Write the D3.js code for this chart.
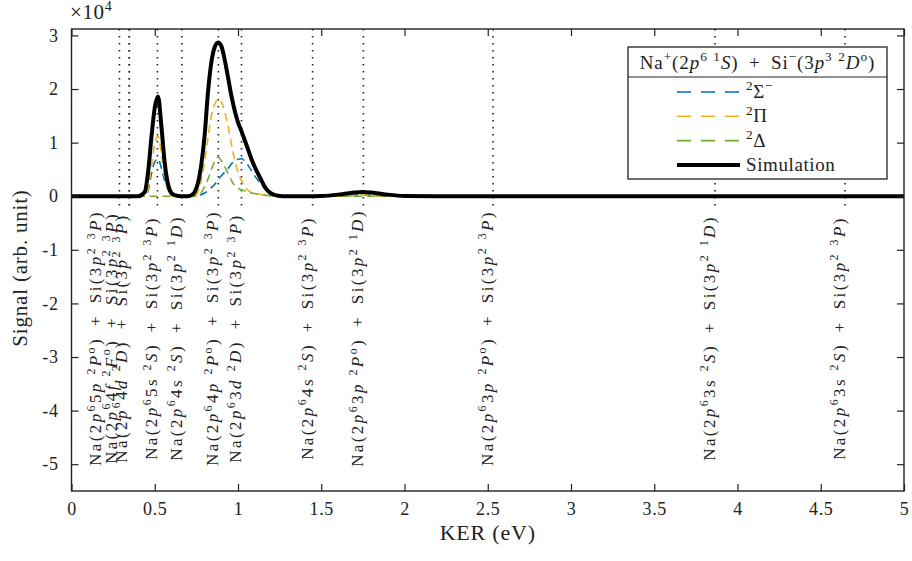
<!DOCTYPE html>
<html lang="en">
<head>
<meta charset="UTF-8">
<title>KER spectrum Na+ + Si-</title>
<style>
  body, html { margin: 0; padding: 0; background: #fff; overflow: hidden; }
  svg { display: block; font-family: "Liberation Serif", "DejaVu Serif", serif; }
  text { white-space: pre; }
</style>
</head>
<body>
<script src="https://d3js.org/d3.v7.min.js"></script>
<script>
// KER grid (eV); signals in units of 10^4
var ker = [0, 0.40, 0.44, 0.46, 0.48, 0.50, 0.52, 0.54, 0.56, 0.58, 0.60, 0.62,
           0.66, 0.70, 0.72, 0.74, 0.76, 0.78, 0.80, 0.82, 0.84, 0.86, 0.88, 0.90, 0.92, 0.94, 0.96, 0.98,
           1.00, 1.02, 1.04, 1.06, 1.08, 1.10, 1.12, 1.14, 1.16, 1.18, 1.20, 1.24,
           1.30, 1.40, 1.50, 1.60, 1.65, 1.70, 1.75, 1.80, 1.85, 1.90, 2.00, 2.20, 5.00];

var sigmaMinus = [0, 0, 0, 0.10, 0.42, 0.64, 0.70, 0.52, 0.28, 0.12, 0.03, 0,
                  0, 0, 0, 0, 0.01, 0.03, 0.06, 0.10, 0.16, 0.22, 0.30, 0.38, 0.45, 0.52, 0.60, 0.66,
                  0.69, 0.70, 0.66, 0.58, 0.48, 0.38, 0.30, 0.22, 0.15, 0.09, 0.05, 0.01,
                  0, 0, 0, 0, 0, 0.02, 0.03, 0.02, 0, 0, 0, 0, 0];

var piState = [0, 0, 0, 0.15, 0.55, 0.98, 1.12, 0.80, 0.35, 0.10, 0.02, 0,
               0, 0, 0, 0, 0.08, 0.30, 0.65, 1.10, 1.50, 1.72, 1.81, 1.76, 1.58, 1.31, 0.98, 0.68,
               0.45, 0.30, 0.18, 0.11, 0.07, 0.05, 0.04, 0.03, 0.02, 0.015, 0.01, 0,
               0, 0, 0, 0, 0, 0.02, 0.03, 0.02, 0, 0, 0, 0, 0];

var deltaState = [0, 0, 0, 0, 0, 0, 0, 0, 0, 0, 0, 0,
                  0, 0, 0, 0, 0.02, 0.07, 0.18, 0.32, 0.50, 0.65, 0.73, 0.66, 0.55, 0.42, 0.30, 0.20,
                  0.15, 0.12, 0.10, 0.08, 0.06, 0.05, 0.04, 0.03, 0.02, 0.015, 0.01, 0,
                  0, 0, 0, 0, 0, 0, 0, 0, 0, 0, 0, 0, 0];

var simulation = [0, 0, 0.08, 0.45, 1.10, 1.65, 1.86, 1.30, 0.62, 0.22, 0.06, 0.02,
                  0, 0, 0.02, 0.08, 0.25, 0.60, 1.15, 1.95, 2.50, 2.78, 2.87, 2.80, 2.55, 2.22, 1.88, 1.60,
                  1.38, 1.22, 1.05, 0.88, 0.70, 0.55, 0.42, 0.30, 0.18, 0.10, 0.05, 0.01,
                  0, 0, 0.005, 0.03, 0.05, 0.07, 0.08, 0.07, 0.05, 0.03, 0.005, 0, 0];

// dissociation limits (eV) and their labels ($ = italic next char, ^ = superscript next char)
var limitKer = [0.288, 0.347, 0.347, 0.516, 0.663, 0.882, 1.021, 1.448, 1.753, 2.532, 3.865, 4.646];
var limitLabels = [
  "Na(2$p^65$p ^2$P^o) + Si(3$p^2 ^3$P)",
  "Na(2$p^64$f ^2$F^o) + Si(3$p^2 ^3$P)",
  "Na(2$p^64$d ^2$D) + Si(3$p^2 ^3$P)",
  "Na(2$p^65s ^2$S) + Si(3$p^2 ^3$P)",
  "Na(2$p^64s ^2$S) + Si(3$p^2 ^1$D)",
  "Na(2$p^64$p ^2$P^o) + Si(3$p^2 ^3$P)",
  "Na(2$p^63$d ^2$D) + Si(3$p^2 ^3$P)",
  "Na(2$p^64s ^2$S) + Si(3$p^2 ^3$P)",
  "Na(2$p^63$p ^2$P^o) + Si(3$p^2 ^1$D)",
  "Na(2$p^63$p ^2$P^o) + Si(3$p^2 ^3$P)",
  "Na(2$p^63s ^2$S) + Si(3$p^2 ^1$D)",
  "Na(2$p^63s ^2$S) + Si(3$p^2 ^3$P)"
];

var xTicks = [0, 0.5, 1, 1.5, 2, 2.5, 3, 3.5, 4, 4.5, 5];
var yTicks = [-5, -4, -3, -2, -1, 0, 1, 2, 3];

var legendTitle = "Na^+(2$p^6 ^1$S) + Si^\u2212(3$p^3 ^2$D^o)";
var seriesNames = ["^2\u03A3^\u2212", "^2\u03A0", "^2\u0394", "Simulation"];
var seriesColors = ["#0072BD", "#EDB120", "#77AC30", "#000000"];

var width = 912, height = 561;
var margin = {top: 29, right: 8, bottom: 70, left: 71.5};

var svg = d3.select("body").append("svg")
    .attr("width", width)
    .attr("height", height);

var x = d3.scaleLinear().domain([0, 5]).range([margin.left, width - margin.right]);
var y = d3.scaleLinear().domain([-5.5, 3.12]).range([height - margin.bottom, margin.top]);

// small helper for the LaTeX-like labels; " + " gets wide math spacing
function richText(sel, str, size) {
    str = str.replace(" + ", "\u2002+\u2002");
    var segs = [], i = 0;
    while (i < str.length) {
        var c = str[i], kind = "n";
        if (c === "^" || c === "$") { kind = c === "^" ? "s" : "i"; i++; c = str[i]; }
        var last = segs[segs.length - 1];
        if (last && last.kind === kind) last.t += c; else segs.push({kind: kind, t: c});
        i++;
    }
    var up = false;
    segs.forEach(function(s) {
        var ts = sel.append("tspan").text(s.t);
        if (s.kind === "i") ts.attr("font-style", "italic");
        if (s.kind === "s") {
            ts.attr("font-size", size * 0.7);
            if (!up) ts.attr("dy", -size * 0.4);
            up = true;
        } else {
            if (up) ts.attr("dy", size * 0.4);
            up = false;
        }
    });
}

svg.append("clipPath").attr("id", "plotclip")
  .append("rect")
    .attr("x", x(0)).attr("y", y(3.12))
    .attr("width", x(5) - x(0)).attr("height", y(-5.5) - y(3.12));

// dotted limit lines
svg.append("g").selectAll("line")
    .data(limitKer)
    .enter().append("line")
    .attr("x1", function(d) { return x(d); })
    .attr("x2", function(d) { return x(d); })
    .attr("y1", y(3.12))
    .attr("y2", 210)
    .attr("stroke", "#222")
    .attr("stroke-width", 1.6)
    .attr("stroke-dasharray", "1.6,5.4");

// rotated labels under each line
var nudge = [-18, -12, -2, 0, 0, 0, 0, 0, 0, 0, 0, 0];
limitLabels.forEach(function(lbl, i) {
    var t = svg.append("text")
        .attr("transform", "translate(" + (x(limitKer[i]) + nudge[i]) + ",338) rotate(-90)")
        .attr("text-anchor", "middle")
        .attr("font-size", 17)
        .attr("letter-spacing", 2.4)
        .attr("fill", "#222");
    richText(t, lbl, 17);
});

// curves
var line = d3.line()
    .x(function(d, i) { return x(ker[i]); })
    .y(function(d) { return y(d); })
    .curve(d3.curveMonotoneX);

var plot = svg.append("g").attr("clip-path", "url(#plotclip)");
[sigmaMinus, piState, deltaState].forEach(function(s, i) {
    plot.append("path")
        .attr("d", line(s))
        .attr("fill", "none")
        .attr("stroke", seriesColors[i])
        .attr("stroke-width", 1.6)
        .attr("stroke-dasharray", "8,5");
});
plot.append("path")
    .attr("d", line(simulation))
    .attr("fill", "none")
    .attr("stroke", "#000")
    .attr("stroke-width", 4)
    .attr("stroke-linejoin", "round");

// axes (ticks inward on all four sides)
svg.append("g")
    .attr("transform", "translate(0," + y(-5.5) + ")")
    .call(d3.axisBottom(x).tickValues(xTicks).tickSize(-7).tickPadding(11)
        .tickFormat(function(d) { return d; }))
    .call(function(g) { g.select(".domain").remove(); });
svg.append("g")
    .attr("transform", "translate(0," + y(3.12) + ")")
    .call(d3.axisTop(x).tickValues(xTicks).tickSize(-7).tickFormat(""))
    .call(function(g) { g.select(".domain").remove(); });
svg.append("g")
    .attr("transform", "translate(" + x(0) + ",0)")
    .call(d3.axisLeft(y).tickValues(yTicks).tickSize(-7).tickPadding(13)
        .tickFormat(function(d) { return String(d); }))
    .call(function(g) { g.select(".domain").remove(); });
svg.append("g")
    .attr("transform", "translate(" + x(5) + ",0)")
    .call(d3.axisRight(y).tickValues(yTicks).tickSize(-7).tickFormat(""))
    .call(function(g) { g.select(".domain").remove(); });

svg.selectAll(".tick text")
    .attr("font-family", "Liberation Serif, serif")
    .attr("font-size", 18)
    .attr("letter-spacing", 0.6)
    .attr("fill", "#222");
svg.selectAll(".tick line").attr("stroke", "#222").attr("stroke-width", 1.2);

svg.append("rect")
    .attr("x", x(0)).attr("y", y(3.12))
    .attr("width", x(5) - x(0)).attr("height", y(-5.5) - y(3.12))
    .attr("fill", "none")
    .attr("stroke", "#222")
    .attr("stroke-width", 1.4);

// axis titles
svg.append("text")
    .attr("x", (x(0) + x(5)) / 2)
    .attr("y", 540)
    .attr("text-anchor", "middle")
    .attr("font-size", 22)
    .attr("letter-spacing", 0.8)
    .attr("fill", "#222")
    .text("KER (eV)");
svg.append("text")
    .attr("transform", "translate(27,268) rotate(-90)")
    .attr("text-anchor", "middle")
    .attr("font-size", 21)
    .attr("letter-spacing", 0.8)
    .attr("fill", "#222")
    .text("Signal (arb. unit)");

var mult = svg.append("text")
    .attr("x", 70).attr("y", 19)
    .attr("font-size", 21)
    .attr("letter-spacing", 0.6)
    .attr("fill", "#222");
mult.append("tspan").text("\u00D710");
mult.append("tspan").attr("font-size", 14).attr("dy", -8).text("4");

// legend
var lg = svg.append("g");
lg.append("rect")
    .attr("x", 628).attr("y", 47)
    .attr("width", 259).attr("height", 132)
    .attr("fill", "#fff")
    .attr("stroke", "#222")
    .attr("stroke-width", 1.3);
lg.append("line")
    .attr("x1", 628).attr("x2", 887)
    .attr("y1", 77).attr("y2", 77)
    .attr("stroke", "#222").attr("stroke-width", 1.1);
var ttl = lg.append("text")
    .attr("x", 757.5).attr("y", 69)
    .attr("text-anchor", "middle")
    .attr("font-size", 19)
    .attr("letter-spacing", 0.9)
    .attr("fill", "#222");
richText(ttl, legendTitle, 19);

seriesNames.forEach(function(name, i) {
    var yy = 92 + i * 24.3;
    lg.append("line")
        .attr("x1", 677).attr("x2", 740)
        .attr("y1", yy).attr("y2", yy)
        .attr("stroke", seriesColors[i])
        .attr("stroke-width", i === 3 ? 4 : 1.6)
        .attr("stroke-dasharray", i === 3 ? null : "14,10");
    var t = lg.append("text")
        .attr("x", 746).attr("y", yy + 6)
        .attr("font-size", 19)
        .attr("letter-spacing", 0.6)
        .attr("fill", "#222");
    richText(t, name, 19);
});
</script>
</body>
</html>
